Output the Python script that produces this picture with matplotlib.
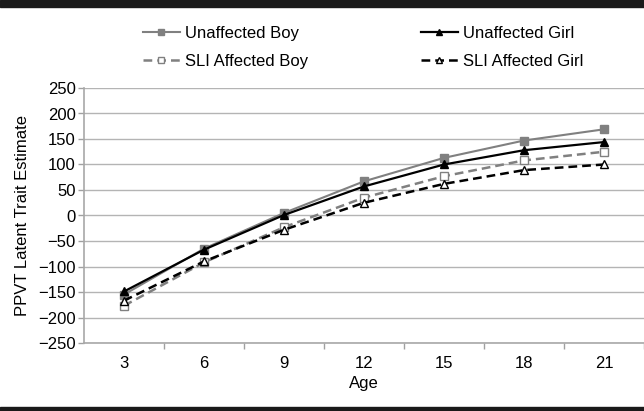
import matplotlib
matplotlib.use("Agg")
import matplotlib.pyplot as plt
from matplotlib.patches import Rectangle

plt.rcParams['font.family'] = ['Liberation Sans', 'DejaVu Sans']

ages = ["3", "6", "9", "12", "15", "18", "21"]
unaffected_boy = [-155, -65, 5, 67, 113, 147, 169]
unaffected_girl = [-149, -67, 1, 57, 100, 128, 144]
sli_boy = [-177, -92, -23, 35, 77, 108, 125]
sli_girl = [-167, -90, -28, 25, 62, 89, 100]
yticks = [-250, -200, -150, -100, -50, 0, 50, 100, 150, 200, 250]

FS = 12
fig = plt.figure(figsize=(6.44, 4.11), dpi=100)
ax = fig.add_axes([84/644, (411-343)/411, 1 - 84/644, (343-88)/411])

x = list(range(len(ages)))
grey = '#808080'
l1, = ax.plot(x, unaffected_boy, color=grey, lw=1.5, marker='s', ms=5.5,
              mfc=grey, mec=grey, label='Unaffected Boy', zorder=3)
l3, = ax.plot(x, sli_boy, color=grey, lw=1.8, ls=(0, (3.5, 2)), marker='s', ms=5.5,
              mfc='white', mec=grey, mew=1.0, label='SLI Affected Boy', zorder=3)
l2, = ax.plot(x, unaffected_girl, color='black', lw=1.6, marker='^', ms=6,
              mfc='black', mec='black', label='Unaffected Girl', zorder=4)
l4, = ax.plot(x, sli_girl, color='black', lw=1.8, ls=(0, (3.5, 2)), marker='^', ms=6,
              mfc='white', mec='black', mew=1.0, label='SLI Affected Girl', zorder=4)

ax.set_xlim(-0.5, len(ages) - 0.5)
ax.set_ylim(-250, 250)
ax.set_yticks(yticks)
ax.set_xticks(x)
ax.set_xticklabels(ages)
ax.set_xticks([i + 0.5 for i in range(len(ages))], minor=True)
ax.tick_params(axis='x', which='major', length=0, pad=9, labelsize=FS)
ax.tick_params(axis='x', which='minor', length=4, color='#a0a0a0', width=1)
ax.tick_params(axis='y', length=4, color='#a0a0a0', width=1, labelsize=FS, pad=2)
ax.yaxis.grid(True, color='#b4b4b4', lw=1)
ax.set_axisbelow(True)
for s in ['top', 'right']:
    ax.spines[s].set_visible(False)
for s in ['left', 'bottom']:
    ax.spines[s].set_color('#a8a8a8')
    ax.spines[s].set_linewidth(1.2)

ax.set_xlabel('Age', fontsize=FS, labelpad=4)
ax.set_ylabel('PPVT Latent Trait Estimate', fontsize=FS, labelpad=6)

handles = [l1, l3, l2, l4]
fig.legend(handles=handles, labels=[h.get_label() for h in handles],
           ncol=2, loc='upper left', bbox_to_anchor=(143/644, 1 - 26/411),
           frameon=False, fontsize=FS, handlelength=2.2, handletextpad=0.3,
           columnspacing=6.8, labelspacing=0.78, borderpad=0, borderaxespad=0,
           markerscale=0.8)

fig.patches.append(Rectangle((0, 1 - 7/411), 1, 7/411, transform=fig.transFigure,
                             color='#1a1a1a', zorder=10))
fig.patches.append(Rectangle((0, 0), 1, 4.5/411, transform=fig.transFigure,
                             color='#1a1a1a', zorder=10))

fig.savefig('out.png', dpi=100)
